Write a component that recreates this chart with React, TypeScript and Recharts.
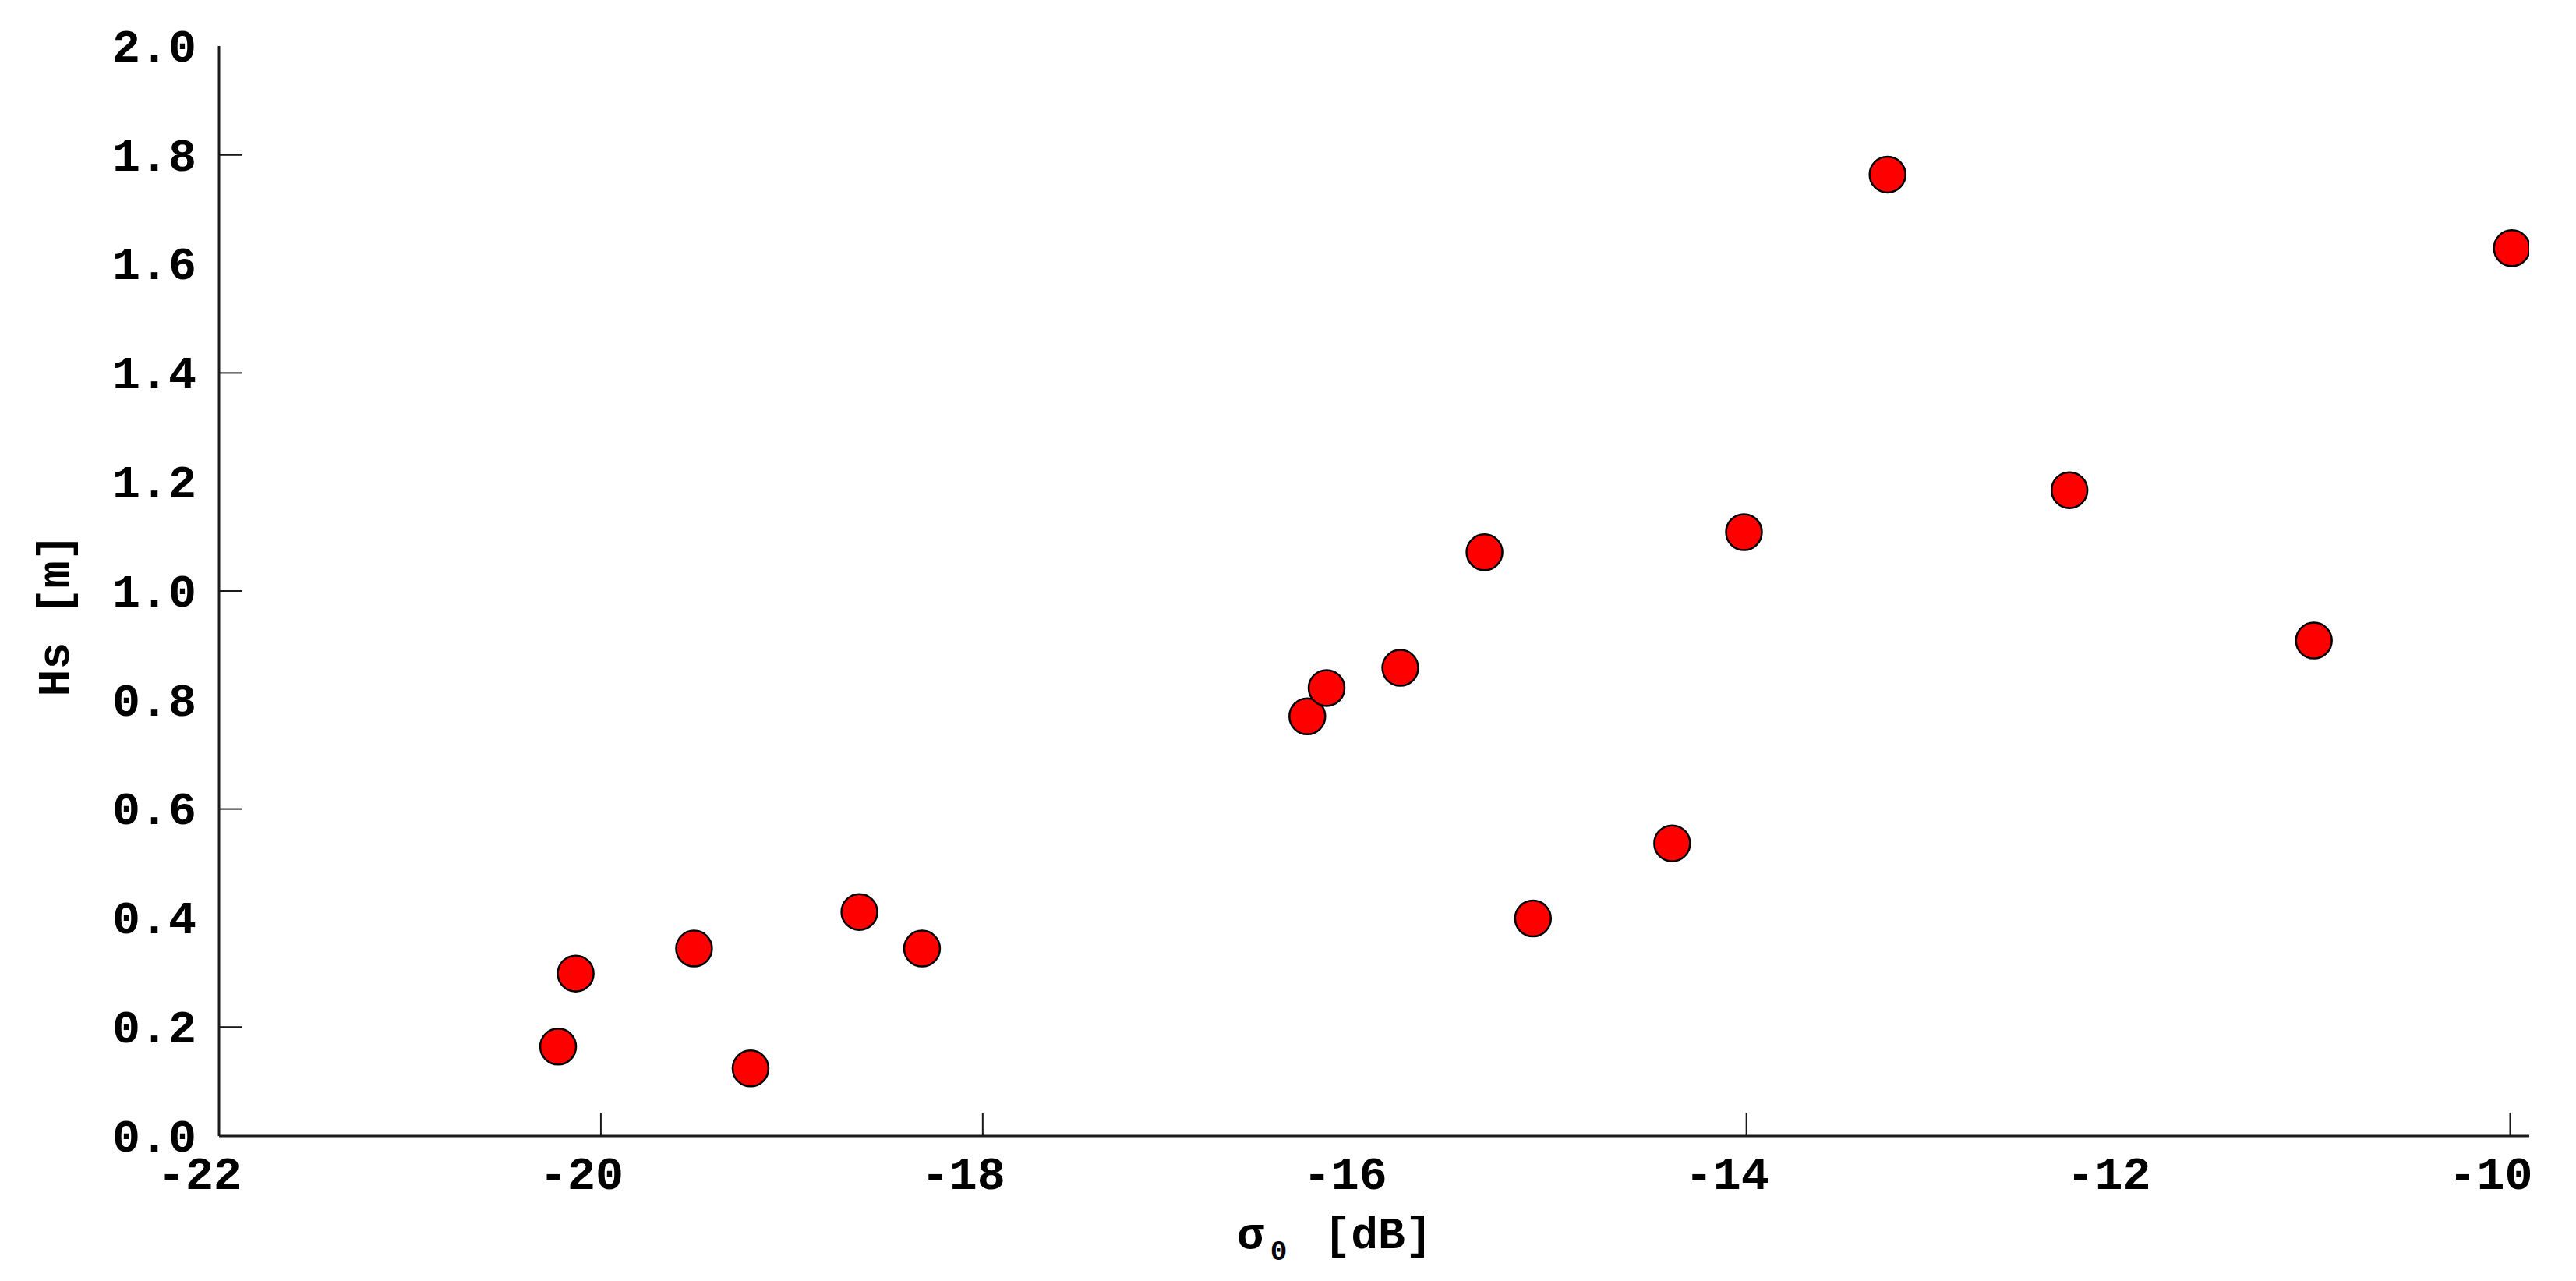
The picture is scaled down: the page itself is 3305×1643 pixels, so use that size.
import React from "react";
import { ScatterChart, Scatter, XAxis, YAxis } from "recharts";

const sigma0: number[] = [
  -20.224, -20.132, -19.512, -19.216, -18.646, -18.318, -16.3, -16.199, -15.813,
  -15.372, -15.118, -14.389, -14.013, -13.261, -12.308, -11.028, -9.991,
];
const hs: number[] = [
  0.164, 0.298, 0.344, 0.124, 0.411, 0.344, 0.77, 0.822, 0.859, 1.071, 0.399,
  0.537, 1.108, 1.764, 1.185, 0.909, 1.629,
];
const xTicks: number[] = [-22, -20, -18, -16, -14, -12, -10];
const yTicks: number[] = [0, 0.2, 0.4, 0.6, 0.8, 1.0, 1.2, 1.4, 1.6, 1.8, 2.0];
// tick marks that are visibly drawn in the reference
const xTickMarks: number[] = [-20, -18, -14, -10];
const yTickMarks: number[] = [0.2, 0.6, 1.0, 1.4, 1.8];

const data = sigma0.map((x, i) => ({ x, y: hs[i] }));

const FONT = "'Liberation Mono', 'Courier New', monospace";
const TICK_FS = 60;
const AXIS_COLOR = "#1a1a1a";
const TICK_LEN = 30;
const X_GAP = 25;
const Y_GAP = 29;

const hasMark = (arr: number[], v: number) => arr.some((a) => Math.abs(a - v) < 1e-6);

const Dot = (props: any) => {
  const { cx, cy } = props;
  if (cx == null || cy == null) return <g />;
  return <circle cx={cx} cy={cy} r={23} fill="#ff0000" stroke="#000" strokeWidth={2.5} />;
};

const XTick = (props: any) => {
  const { x, y, payload } = props;
  const axisY = y - X_GAP;
  return (
    <g>
      {hasMark(xTickMarks, payload.value) && (
        <line x1={x} x2={x} y1={axisY} y2={axisY - TICK_LEN} stroke={AXIS_COLOR} strokeWidth={2} />
      )}
      <text
        x={x - 25}
        y={y}
        dy="0.71em"
        textAnchor="middle"
        fontFamily={FONT}
        fontWeight="bold"
        fontSize={TICK_FS}
        fill="#000"
      >
        {String(payload.value)}
      </text>
    </g>
  );
};

const YTick = (props: any) => {
  const { x, y, payload } = props;
  const axisX = x + Y_GAP;
  return (
    <g>
      {hasMark(yTickMarks, payload.value) && (
        <line x1={axisX} x2={axisX + TICK_LEN} y1={y} y2={y} stroke={AXIS_COLOR} strokeWidth={2} />
      )}
      <text
        x={x}
        y={y}
        dy="0.33em"
        textAnchor="end"
        fontFamily={FONT}
        fontWeight="bold"
        fontSize={TICK_FS}
        fill="#000"
      >
        {Number(payload.value).toFixed(1)}
      </text>
    </g>
  );
};

const TopTick = (props: any) => {
  const { x, y, payload } = props;
  if (!hasMark(xTickMarks, payload.value)) return <g />;
  return <line x1={x} x2={x} y1={y} y2={y + TICK_LEN} stroke={AXIS_COLOR} strokeWidth={2} />;
};

const RightTick = (props: any) => {
  const { x, y, payload } = props;
  if (!hasMark(yTickMarks, payload.value)) return <g />;
  return <line x1={x} x2={x - TICK_LEN} y1={y} y2={y} stroke={AXIS_COLOR} strokeWidth={2} />;
};

const XLabel = (props: any) => {
  const vb = props.viewBox || {};
  const cx = vb.x + vb.width / 2;
  const baseline = vb.y + 144;
  return (
    <text x={cx - 176} y={baseline} fontFamily={FONT} fontWeight="bold" fontSize={58} fill="#000">
      <tspan>σ</tspan>
      <tspan fontSize={36} dx={8} dy={15}>0</tspan>
      <tspan dx={47} dy={-15}>[dB]</tspan>
    </text>
  );
};

const YLabel = (props: any) => {
  const vb = props.viewBox || {};
  const cx = vb.x - 13;
  const cy = vb.y + vb.height / 2 + 31;
  return (
    <text
      x={cx}
      y={cy}
      transform={`rotate(-90, ${cx}, ${cy})`}
      textAnchor="middle"
      dy="0.35em"
      fontFamily={FONT}
      fontWeight="bold"
      fontSize={58}
      fill="#000"
      style={{ whiteSpace: "pre" }}
    >
      Hs [m]
    </text>
  );
};

export default function App() {
  return (
    <div style={{ position: "absolute", left: 0, top: 0, width: 3305, height: 1643, background: "#fff" }}>
      <ScatterChart
        width={3305}
        height={1643}
        margin={{ top: 59, right: 60, bottom: 66, left: 81 }}
      >
        <XAxis
          xAxisId="bottom"
          dataKey="x"
          type="number"
          domain={[-22, -9.9]}
          allowDataOverflow
          ticks={xTicks}
          orientation="bottom"
          height={120}
          tickSize={0}
          tickMargin={X_GAP}
          tick={<XTick />}
          tickLine={false}
          axisLine={{ stroke: AXIS_COLOR, strokeWidth: 3 }}
          label={<XLabel />}
        />
        <XAxis
          xAxisId="top"
          type="number"
          domain={[-22, -9.9]}
          allowDataOverflow
          ticks={xTicks}
          orientation="top"
          height={0}
          tickSize={0}
          tickMargin={0}
          tick={<TopTick />}
          tickLine={false}
          axisLine={{ stroke: AXIS_COLOR, strokeWidth: 3 }}
        />
        <YAxis
          yAxisId="left"
          dataKey="y"
          type="number"
          domain={[0, 2]}
          allowDataOverflow
          ticks={yTicks}
          orientation="left"
          width={200}
          tickSize={0}
          tickMargin={Y_GAP}
          tick={<YTick />}
          tickLine={false}
          axisLine={{ stroke: AXIS_COLOR, strokeWidth: 3 }}
          label={<YLabel />}
        />
        <YAxis
          yAxisId="right"
          type="number"
          domain={[0, 2]}
          allowDataOverflow
          ticks={yTicks}
          orientation="right"
          width={0}
          tickSize={0}
          tickMargin={0}
          tick={<RightTick />}
          tickLine={false}
          axisLine={{ stroke: AXIS_COLOR, strokeWidth: 3 }}
        />
        <Scatter
          data={data}
          xAxisId="bottom"
          yAxisId="left"
          shape={<Dot />}
          isAnimationActive={false}
        />
      </ScatterChart>
    </div>
  );
}
